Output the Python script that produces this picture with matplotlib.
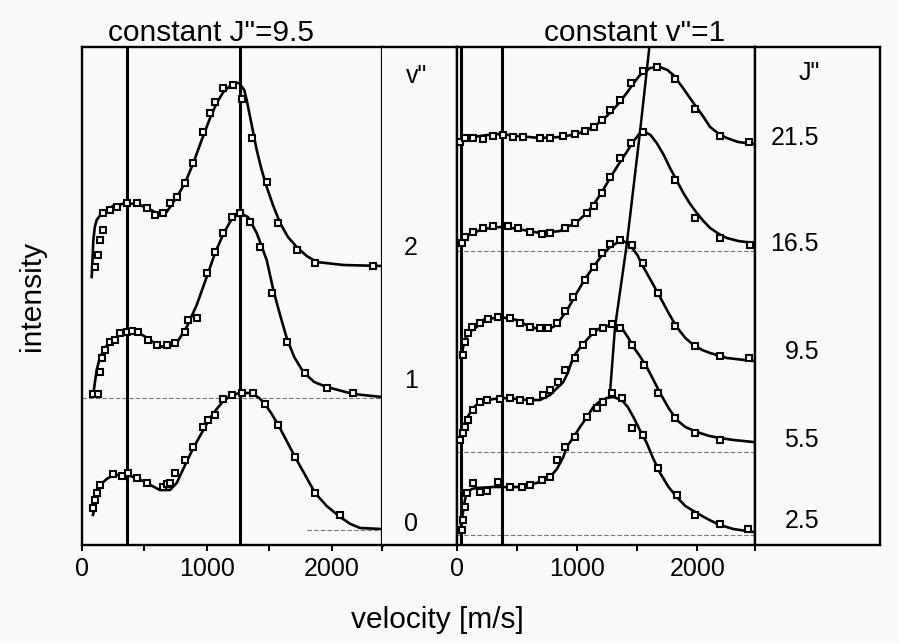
import numpy as np
import matplotlib.pyplot as plt

plt.rcParams['font.family'] = ['Liberation Sans', 'DejaVu Sans']

# ---- left panel: constant J"=9.5, curves for v" = 0, 1, 2 (velocity m/s, intensity a.u.)
v0_fit_x = [90, 120, 147, 200, 253, 360, 440, 520, 625, 707, 760, 827, 893, 973, 1027, 1080,
            1133, 1200, 1267, 1360, 1420, 1467, 1520, 1573, 1640, 1707, 1787, 1867, 1960, 2067,
            2150, 2227, 2400]
v0_fit_y = [30, 48, 60, 66, 70, 70, 67, 62, 55, 55, 62, 80, 97, 115, 127, 136,
            144, 150, 152, 152, 147, 141, 131, 120, 104, 88, 70, 52, 39, 28,
            21, 17, 16]
v0_pts_x = [93, 107, 120, 147, 253, 320, 373, 440, 520, 653, 680, 707, 747, 827, 893, 973, 1013,
            1067, 1133, 1200, 1280, 1373, 1467, 1573, 1707, 1867, 2067]
v0_pts_y = [37, 45, 52, 60, 71, 69, 72, 67, 62, 58, 61, 62, 72, 85, 98, 118, 125,
            130, 146, 150, 152, 152, 141, 120, 88, 52, 30]

v1_fit_x = [93, 105, 120, 140, 160, 190, 227, 307, 400, 470, 540, 600, 680, 760, 840, 920, 1000,
            1067, 1133, 1200, 1267, 1330, 1400, 1480, 1533, 1587, 1640, 1700, 1773, 1860, 1960,
            2173, 2400]
v1_fit_y = [151, 162, 175, 185, 191, 198, 203, 210, 213, 211, 206, 200, 197, 202, 218, 240, 268,
            292, 311, 326, 332, 328, 312, 285, 255, 230, 207, 188, 173, 163, 158,
            151, 148]
v1_pts_x = [93, 133, 147, 160, 187, 227, 267, 307, 360, 400, 453, 533, 600, 680, 747, 827, 853,
            920, 1000, 1067, 1133, 1200, 1267, 1347, 1427, 1520, 1640, 1787, 1960, 2173]
v1_pts_y = [151, 151, 173, 187, 195, 203, 205, 212, 213, 214, 213, 205, 200, 200, 202, 213, 225,
            227, 272, 293, 312, 328, 332, 323, 298, 252, 203, 172, 157, 152]

v2_fit_x = [80, 88, 93, 105, 120, 150, 173, 250, 360, 467, 540, 600, 680, 760, 827, 893, 960,
            1027, 1080, 1133, 1213, 1260, 1300, 1320, 1360, 1400, 1440, 1480, 1530, 1587, 1650,
            1720, 1800, 1880, 2093, 2400]
v2_fit_y = [268, 290, 305, 318, 325, 330, 333, 339, 342, 340, 336, 332, 333, 348, 362, 382, 405,
            427, 442, 453, 462, 462, 455, 445, 420, 395, 375, 358, 340, 322, 308,
            298, 289, 283, 280, 279]
v2_pts_x = [107, 133, 147, 167, 173, 227, 280, 360, 440, 520, 587, 653, 707, 760, 827, 893, 973,
            1027, 1067, 1133, 1213, 1280, 1360, 1480, 1573, 1720, 1867, 2333]
v2_pts_y = [278, 290, 305, 315, 332, 335, 338, 342, 342, 337, 330, 332, 342, 348, 362, 382, 413,
            432, 443, 457, 460, 446, 407, 363, 322, 295, 282, 279]

left_baselines = [15, 147]
left_marks = [360, 1267]

# ---- right panel: constant v"=1, curves for J" = 2.5, 5.5, 9.5, 16.5, 21.5
j2_fit_x = [22, 35, 50, 64, 78, 120, 161, 300, 495, 661, 772, 830, 883, 911, 970, 1022, 1080,
            1133, 1190, 1245, 1300, 1370, 1420, 1467, 1520, 1578, 1630, 1689, 1760, 1828, 1900,
            1995, 2100, 2189, 2300, 2467]
j2_fit_y = [12, 22, 35, 45, 52, 56, 57, 58, 58, 62, 68, 76, 88, 98, 108, 118, 128,
            138, 144, 147, 148, 145, 138, 128, 115, 102, 87, 72, 58, 48, 39,
            32, 25, 20, 16, 13]
j2_pts_x = [36, 50, 64, 78, 133, 189, 245, 342, 439, 536, 606, 703, 772, 828, 897, 981, 1078,
            1161, 1217, 1286, 1370, 1453, 1550, 1675, 1828, 1981, 2189, 2425]
j2_pts_y = [15, 25, 38, 52, 62, 53, 54, 63, 58, 58, 60, 65, 68, 85, 98, 108, 128,
            137, 143, 152, 147, 117, 110, 77, 50, 30, 21, 16]

j5_fit_x = [22, 35, 50, 75, 106, 140, 189, 300, 411, 578, 689, 772, 840, 883, 920, 967, 1020,
            1078, 1130, 1189, 1250, 1300, 1370, 1420, 1467, 1520, 1578, 1630, 1689, 1760, 1828,
            1900, 1995, 2100, 2189, 2300, 2467]
j5_fit_y = [103, 112, 118, 126, 132, 138, 143, 146, 147, 145, 145, 150, 158, 163, 172, 188, 197,
            205, 212, 217, 219, 220, 217, 208, 198, 189, 178, 166, 152, 137, 125,
            118, 113, 109, 107, 105, 103]
j5_pts_x = [22, 44, 64, 92, 128, 189, 245, 356, 439, 522, 606, 717, 772, 842, 897, 981, 1050,
            1133, 1217, 1286, 1356, 1453, 1556, 1675, 1814, 1981, 2189]
j5_pts_y = [105, 112, 118, 125, 135, 143, 145, 146, 147, 145, 144, 150, 155, 163, 175, 187, 200,
            213, 217, 221, 217, 200, 180, 152, 127, 112, 105]

j9_fit_x = [36, 45, 55, 90, 161, 214, 356, 495, 606, 717, 800, 856, 920, 995, 1064, 1133, 1200,
            1272, 1370, 1439, 1500, 1550, 1620, 1689, 1760, 1828, 1900, 1967, 2040, 2106, 2245,
            2467]
j9_fit_y = [185, 195, 203, 212, 218, 225, 228, 225, 218, 215, 218, 225, 236, 252, 266, 278, 289,
            298, 305, 300, 290, 278, 263, 248, 232, 218, 207, 200, 195, 192, 187,
            184]
j9_pts_x = [50, 64, 92, 120, 189, 258, 342, 439, 522, 606, 689, 758, 828, 897, 967, 1064, 1136,
            1203, 1272, 1356, 1453, 1550, 1675, 1814, 1981, 2189, 2433]
j9_pts_y = [190, 203, 212, 218, 222, 226, 228, 227, 222, 218, 217, 217, 222, 234, 248, 265, 278,
            292, 301, 305, 300, 282, 252, 219, 199, 189, 187]

j16_fit_x = [22, 40, 80, 131, 214, 356, 450, 550, 689, 780, 856, 995, 1070, 1133, 1200, 1272,
             1340, 1411, 1470, 1522, 1564, 1610, 1661, 1720, 1772, 1830, 1883, 1940, 1995, 2050,
             2106, 2180, 2245, 2340, 2470]
j16_fit_y = [300, 304, 309, 312, 316, 318, 317, 315, 312, 313, 314, 323, 331, 340, 352, 367,
             380, 393, 404, 412, 413, 410, 402, 390, 377, 364, 352, 341, 332, 324,
             317, 311, 307, 304, 302]
j16_pts_x = [36, 64, 131, 214, 297, 422, 506, 606, 703, 772, 897, 981, 1078, 1136, 1203, 1272,
             1356, 1445, 1550, 1814, 1981, 2189, 2439]
j16_pts_y = [302, 308, 313, 317, 319, 319, 317, 313, 311, 312, 317, 322, 332, 339, 352, 368,
             387, 402, 413, 365, 327, 307, 300]

j21_fit_x = [22, 60, 130, 250, 356, 500, 689, 856, 1000, 1133, 1200, 1272, 1340, 1411, 1470,
             1522, 1606, 1689, 1750, 1800, 1880, 1967, 2040, 2106, 2180, 2245, 2340, 2470]
j21_fit_y = [402, 406, 408, 410, 411, 409, 407, 408, 411, 418, 424, 432, 441, 452, 462,
             470, 477, 478, 475, 470, 457, 442, 430, 418, 411, 407, 403, 401]
j21_pts_x = [22, 64, 131, 214, 297, 381, 464, 547, 689, 772, 881, 981, 1064, 1136, 1203, 1272,
             1356, 1445, 1545, 1662, 1814, 1981, 2189, 2433]
j21_pts_y = [403, 407, 407, 406, 409, 410, 408, 408, 407, 407, 409, 411, 414, 418, 425, 435,
             445, 462, 474, 478, 466, 436, 409, 403]

right_baselines = [10, 93, 294]
right_marks = [30, 370]
peak_x = [1272, 1314, 1411, 1522, 1600]
peak_y = [152, 218, 300, 413, 498]

v_labels = ['0', '1', '2']
j_labels = ['2.5', '5.5', '9.5', '16.5', '21.5']

bg = '#f9fbf9'
W, H = 899, 643
fig = plt.figure(figsize=(W / 100, H / 100), dpi=100, facecolor=bg)

bot = (H - 545) / H
hgt = 498 / H


def px_axes(x0, x1):
    ax = fig.add_axes([x0 / W, bot, (x1 - x0) / W, hgt], facecolor=bg)
    for s in ax.spines.values():
        s.set_linewidth(1.7)
    return ax


ax1 = px_axes(81.7, 381.7)
col1 = px_axes(381.7, 457.3)
ax2 = px_axes(457.3, 755)
col2 = px_axes(755, 880)

for c in (col1, col2):
    c.set_xticks([])
    c.set_yticks([])
    c.set_xlim(0, 1)
    c.set_ylim(0, 498)
col1.spines['left'].set_visible(False)

line_kw = dict(color='black', lw=1.9, zorder=3)
pt_kw = dict(ls='none', marker='s', ms=5, mfc=bg, mec='black', mew=1.5, zorder=4)
base_kw = dict(color='#777777', lw=0.8, ls=(0, (4, 2)), zorder=1)

# left panel
for fx, fy, px, py in [(v0_fit_x, v0_fit_y, v0_pts_x, v0_pts_y),
                       (v1_fit_x, v1_fit_y, v1_pts_x, v1_pts_y),
                       (v2_fit_x, v2_fit_y, v2_pts_x, v2_pts_y)]:
    ax1.plot(fx, fy, **line_kw)
    ax1.plot(px, py, **pt_kw)
ax1.plot([1800, 2400], [left_baselines[0]] * 2, **base_kw)
ax1.plot([0, 2400], [left_baselines[1]] * 2, **base_kw)
for m in left_marks:
    ax1.axvline(m, color='black', lw=2.2, zorder=2)
ax1.set_xlim(0, 2400)
ax1.set_ylim(0, 498)
ax1.spines['right'].set_linewidth(2.3)

# right panel
for fx, fy, px, py in [(j2_fit_x, j2_fit_y, j2_pts_x, j2_pts_y),
                       (j5_fit_x, j5_fit_y, j5_pts_x, j5_pts_y),
                       (j9_fit_x, j9_fit_y, j9_pts_x, j9_pts_y),
                       (j16_fit_x, j16_fit_y, j16_pts_x, j16_pts_y),
                       (j21_fit_x, j21_fit_y, j21_pts_x, j21_pts_y)]:
    ax2.plot(fx, fy, **line_kw)
    ax2.plot(px, py, **pt_kw)
for b in right_baselines:
    ax2.plot([0, 2480], [b, b], **base_kw)
for m in right_marks:
    ax2.axvline(m, color='black', lw=2.2, zorder=2)
ax2.plot(peak_x, peak_y, color='black', lw=1.8, zorder=3)
ax2.set_xlim(0, 2480)
ax2.set_ylim(0, 498)

for ax, end in ((ax1, 2400), (ax2, 2480)):
    ax.set_yticks([])
    ax.set_xticks([0, 500, 1000, 1500, 2000, end])
    ax.set_xticklabels(['0', '', '1000', '', '2000', ''])
    ax.tick_params(axis='x', direction='out', length=4, width=1.4, pad=5, labelsize=18)

# text
fs = 21.5
fig.text(211 / W, 1 - 41 / H, 'constant J"=9.5', ha='center', va='baseline', fontsize=fs)
fig.text(635 / W, 1 - 41 / H, 'constant v"=1', ha='center', va='baseline', fontsize=fs)
fig.text(437 / W, 1 - 620 / H, 'velocity [m/s]', ha='center', va='center', fontsize=fs)
fig.text(32 / W, 1 - 296 / H, 'intensity', ha='center', va='center', rotation=90, fontsize=fs)

fig.text(417 / W, 1 - 76 / H, 'v"', ha='center', va='center', fontsize=18)
for lab, yy in zip(v_labels, [524, 381, 248]):
    fig.text(411 / W, 1 - yy / H, lab, ha='center', va='center', fontsize=18)
fig.text(809 / W, 1 - 73 / H, 'J"', ha='center', va='center', fontsize=18)
for lab, yy in zip(j_labels, [521, 440, 352, 244, 138]):
    fig.text(819 / W, 1 - yy / H, lab, ha='right', va='center', fontsize=18)

fig.savefig('out.png', dpi=100, facecolor=bg)
